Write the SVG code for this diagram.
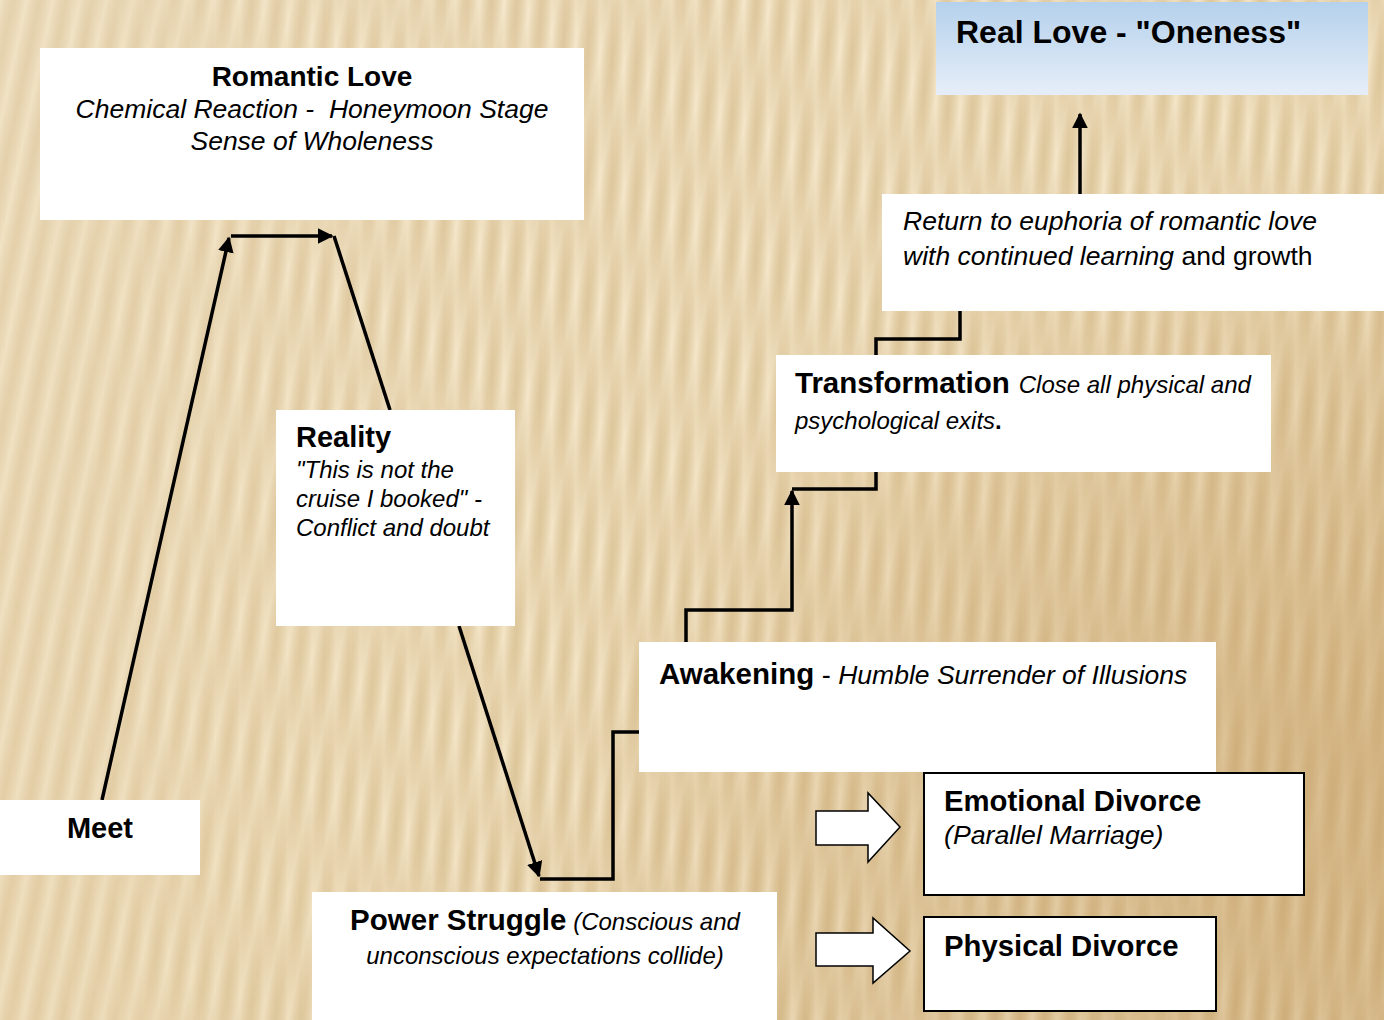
<svg xmlns="http://www.w3.org/2000/svg" width="1384" height="1020" viewBox="0 0 1384 1020">
<defs>
<linearGradient id="bg" x1="0" y1="0" x2="1" y2="1">
<stop offset="0" stop-color="#ecdcbc"/>
<stop offset="0.55" stop-color="#e9d6b0"/>
<stop offset="1" stop-color="#d3b583"/>
</linearGradient>
<radialGradient id="dark" cx="1.0" cy="0.75" r="0.6">
<stop offset="0" stop-color="#c9a46c" stop-opacity="0.55"/>
<stop offset="1" stop-color="#c9a46c" stop-opacity="0"/>
</radialGradient>
<linearGradient id="stripe" x1="0" y1="0" x2="1" y2="0">
<stop offset="0" stop-color="#fff6e0" stop-opacity="0.3"/>
<stop offset="0.5" stop-color="#c8a872" stop-opacity="0.2"/>
<stop offset="1" stop-color="#fff6e0" stop-opacity="0.3"/>
</linearGradient>
<pattern id="stripesL" width="26" height="40" patternUnits="userSpaceOnUse" patternTransform="rotate(12)">
<rect width="26" height="40" fill="url(#stripe)"/>
</pattern>
<pattern id="stripesR" width="24" height="40" patternUnits="userSpaceOnUse">
<rect width="24" height="40" fill="url(#stripe)"/>
</pattern>
<linearGradient id="fadeR" x1="0" y1="0" x2="1" y2="0">
<stop offset="0" stop-color="#fff" stop-opacity="0"/>
<stop offset="0.35" stop-color="#fff" stop-opacity="1"/>
</linearGradient>
<mask id="mR"><rect width="1384" height="1020" fill="url(#fadeR)"/></mask>
<linearGradient id="blue" x1="0" y1="0" x2="0" y2="1">
<stop offset="0" stop-color="#b5d1ec"/>
<stop offset="1" stop-color="#e6eef8"/>
</linearGradient>
<marker id="ah" viewBox="0 0 10 10" refX="9" refY="5" markerWidth="4.5" markerHeight="4.5" orient="auto" markerUnits="strokeWidth">
<path d="M0,0 L10,5 L0,10 z" fill="#000"/>
</marker>
</defs>
<style>
.box{fill:#fff}
.sbox{fill:#fff;stroke:#000;stroke-width:2}
.t{font-family:"Liberation Sans",Arial,sans-serif;fill:#000}
.b{font-weight:bold}
.i{font-style:italic}
.c{fill:none;stroke:#000;stroke-width:3.5}
.blk{fill:#fff;stroke:#000;stroke-width:1.5}
</style>
<rect width="1384" height="1020" fill="url(#bg)"/>
<rect width="1384" height="1020" fill="url(#stripesL)"/>
<rect width="1384" height="1020" fill="url(#stripesR)" mask="url(#mR)"/>
<rect width="1384" height="1020" fill="url(#dark)"/>

<g id="connectors">
<path class="c" d="M102,800 L229,238" marker-end="url(#ah)"/>
<path class="c" d="M231,236 L332,236" marker-end="url(#ah)"/>
<path class="c" d="M334,236 L390,410"/>
<path class="c" d="M459,626 L539,876" marker-end="url(#ah)"/>
<path class="c" d="M540,879 H613 V732 H639"/>
<path class="c" d="M686,642 V610 H792 V491" marker-end="url(#ah)"/>
<path class="c" d="M792,489 H876 V472"/>
<path class="c" d="M876,355 V339 H960 V311"/>
<path class="c" d="M1080,194 V114" marker-end="url(#ah)"/>
<path class="blk" d="M816,811 H868 V793 L900,827 L868,862 V845 H816 Z"/>
<path class="blk" d="M816,933 H873 V918 L910,951 L873,983 V966 H816 Z"/>
</g>

<g id="romantic">
<rect class="box" x="40" y="48" width="544" height="172"/>
<text class="t b" x="312" y="86" font-size="28" text-anchor="middle">Romantic Love</text>
<text class="t i" x="312" y="118" font-size="26.5" text-anchor="middle" xml:space="preserve">Chemical Reaction -  Honeymoon Stage</text>
<text class="t i" x="312" y="150" font-size="26.5" text-anchor="middle">Sense of Wholeness</text>
</g>

<g id="reallove">
<rect x="936" y="2" width="432" height="93" fill="url(#blue)"/>
<text class="t b" x="956" y="43" font-size="32">Real Love - "Oneness"</text>
</g>

<g id="return">
<rect class="box" x="882" y="194" width="502" height="117"/>
<text class="t i" x="903" y="230" font-size="26.5">Return to euphoria of romantic love</text>
<text class="t" x="903" y="265" font-size="26.5"><tspan class="i">with continued learning</tspan> and growth</text>
</g>

<g id="transformation">
<rect class="box" x="776" y="355" width="495" height="117"/>
<text class="t" x="795" y="393"><tspan class="b" font-size="29.5">Transformation</tspan><tspan class="i" font-size="24" dx="9">Close all physical and</tspan></text>
<text class="t" x="795" y="429" font-size="24"><tspan class="i">psychological exits</tspan><tspan class="b">.</tspan></text>
</g>

<g id="reality">
<rect class="box" x="276" y="410" width="239" height="216"/>
<text class="t b" x="296" y="447" font-size="29">Reality</text>
<text class="t i" x="296" y="478" font-size="24">"This is not the</text>
<text class="t i" x="296" y="507" font-size="24">cruise I booked" -</text>
<text class="t i" x="296" y="536" font-size="24">Conflict and doubt</text>
</g>

<g id="awakening">
<rect class="box" x="639" y="642" width="577" height="130"/>
<text class="t" x="659" y="684" xml:space="preserve"><tspan class="b" font-size="29.5">Awakening</tspan><tspan font-size="27"> - </tspan><tspan class="i" font-size="26.5">Humble Surrender of Illusions</tspan></text>
</g>

<g id="emotional">
<rect class="sbox" x="924" y="773" width="380" height="122"/>
<text class="t b" x="944" y="811" font-size="29.3">Emotional Divorce</text>
<text class="t i" x="944" y="844" font-size="26.7">(Parallel Marriage)</text>
</g>

<g id="physical">
<rect class="sbox" x="924" y="917" width="292" height="94"/>
<text class="t b" x="944" y="956" font-size="29.3">Physical Divorce</text>
</g>

<g id="meet">
<rect class="box" x="0" y="800" width="200" height="75"/>
<text class="t b" x="100" y="838" font-size="29" text-anchor="middle">Meet</text>
</g>

<g id="power">
<rect class="box" x="312" y="892" width="465" height="128"/>
<text class="t" x="545" y="930" text-anchor="middle" xml:space="preserve"><tspan class="b" font-size="29.5">Power Struggle</tspan><tspan class="i" font-size="24"> (Conscious and</tspan></text>
<text class="t i" x="545" y="964" font-size="24" text-anchor="middle">unconscious expectations collide)</text>
</g>
</svg>
